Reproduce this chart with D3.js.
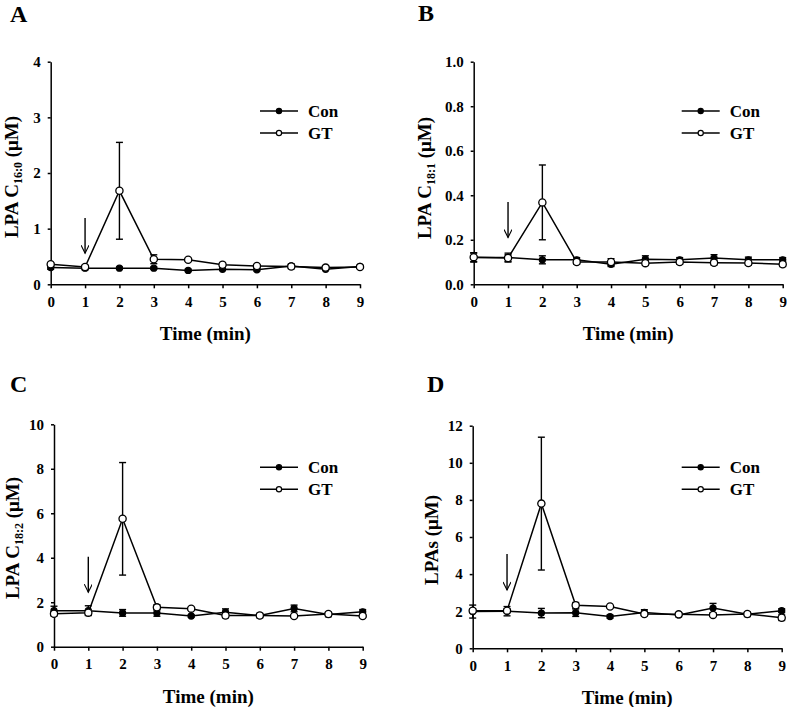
<!DOCTYPE html>
<html>
<head>
<meta charset="utf-8">
<script src="https://cdn.jsdelivr.net/npm/d3@7"></script>
<style>
  html, body { margin: 0; padding: 0; background: #fff; }
  svg { display: block; }
  text { font-family: "Liberation Serif", "Times New Roman", serif; font-weight: bold; fill: #000; }
</style>
</head>
<body>
<svg id="chart" width="787" height="707"></svg>
<script>
// ---------- data ----------
const times = [0, 1, 2, 3, 4, 5, 6, 7, 8, 9];
const seriesNames = ["Con", "GT"];
const panelLetters = ["A", "B", "C", "D"];

// Panel A: LPA C16:0
const conA    = [0.30, 0.29, 0.29, 0.29, 0.25, 0.27, 0.26, 0.33, 0.27, 0.32];
const conAErr = [0.03, 0.03, 0.02, 0.02, 0.02, 0.02, 0.02, 0.03, 0.02, 0.02];
const gtA     = [0.36, 0.31, 1.68, 0.45, 0.44, 0.35, 0.33, 0.32, 0.30, 0.31];
const gtAErr  = [0.03, 0.03, 0.87, 0.08, 0.02, 0.04, 0.02, 0.04, 0.02, 0.02];
const ticksA  = [0, 1, 2, 3, 4];

// Panel B: LPA C18:1
const conB    = [0.120, 0.120, 0.110, 0.110, 0.090, 0.113, 0.110, 0.118, 0.110, 0.110];
const conBErr = [0.020, 0.020, 0.018, 0.010, 0.010, 0.015, 0.010, 0.015, 0.012, 0.010];
const gtB     = [0.122, 0.118, 0.368, 0.100, 0.100, 0.095, 0.100, 0.097, 0.096, 0.090];
const gtBErr  = [0.020, 0.015, 0.168, 0.010, 0.015, 0.010, 0.010, 0.010, 0.010, 0.010];
const ticksB  = [0.0, 0.2, 0.4, 0.6, 0.8, 1.0];

// Panel C: LPA C18:2
const conC    = [1.62, 1.62, 1.52, 1.52, 1.38, 1.55, 1.40, 1.72, 1.45, 1.57];
const conCErr = [0.20, 0.22, 0.15, 0.15, 0.05, 0.15, 0.10, 0.15, 0.10, 0.10];
const gtC     = [1.48, 1.53, 5.75, 1.77, 1.71, 1.40, 1.40, 1.38, 1.47, 1.38];
const gtCErr  = [0.10, 0.10, 2.53, 0.12, 0.05, 0.10, 0.05, 0.05, 0.05, 0.05];
const ticksC  = [0, 2, 4, 6, 8, 10];

// Panel D: LPAs
const conD    = [1.98, 2.00, 1.90, 1.92, 1.71, 1.93, 1.80, 2.17, 1.83, 2.03];
const conDErr = [0.35, 0.25, 0.25, 0.20, 0.08, 0.15, 0.10, 0.25, 0.12, 0.10];
const gtD     = [2.03, 2.03, 7.80, 2.32, 2.25, 1.85, 1.83, 1.80, 1.85, 1.65];
const gtDErr  = [0.10, 0.10, 3.58, 0.15, 0.05, 0.10, 0.05, 0.05, 0.05, 0.15];
const ticksD  = [0, 2, 4, 6, 8, 10, 12];

// arrow (treatment) at t = 1: [top value, tip value] in data units
const arrowTime = 1;
const arrowA = [1.19, 0.56];
const arrowB = [0.37, 0.21];
const arrowC = [4.05, 2.45];
const arrowD = [5.08, 3.14];

// ---------- layout ----------
const panels = [
  { letter: panelLetters[0], con: conA, conErr: conAErr, gt: gtA, gtErr: gtAErr, ticks: ticksA, fmt: d3.format("d"),
    ylabel: ["LPA C", "16:0", " (\u03BCM)"], arrow: arrowA,
    x0: 50.7, x1: 360, y0: 284.3, y1: 61.7, letterX: 10, letterY: 22, labX: 18, labY: 177, legX: 260, legY: 111 },
  { letter: panelLetters[1], con: conB, conErr: conBErr, gt: gtB, gtErr: gtBErr, ticks: ticksB, fmt: d3.format(".1f"),
    ylabel: ["LPA C", "18:1", " (\u03BCM)"], arrow: arrowB,
    x0: 473.7, x1: 782.7, y0: 284.3, y1: 61.7, letterX: 418, letterY: 21, labX: 431, labY: 178, legX: 681.7, legY: 111 },
  { letter: panelLetters[2], con: conC, conErr: conCErr, gt: gtC, gtErr: gtCErr, ticks: ticksC, fmt: d3.format("d"),
    ylabel: ["LPA C", "18:2", " (\u03BCM)"], arrow: arrowC,
    x0: 54, x1: 362.7, y0: 646.7, y1: 424.3, letterX: 10, letterY: 392, labX: 19, labY: 538, legX: 260, legY: 467.3 },
  { letter: panelLetters[3], con: conD, conErr: conDErr, gt: gtD, gtErr: gtDErr, ticks: ticksD, fmt: d3.format("d"),
    ylabel: ["LPAs", null, " (\u03BCM)"], arrow: arrowD,
    x0: 472.7, x1: 781.7, y0: 648.3, y1: 425.7, letterX: 427, letterY: 392, labX: 438, labY: 540, legX: 681.7, legY: 467.3 }
];

const svg = d3.select("#chart");

svg.append("defs").append("marker")
  .attr("id", "arrowhead")
  .attr("viewBox", "0 0 10 10")
  .attr("refX", 10).attr("refY", 5)
  .attr("markerUnits", "userSpaceOnUse")
  .attr("markerWidth", 14).attr("markerHeight", 8)
  .attr("orient", "auto")
  .append("path")
  .attr("d", "M0,0 L10,5 L0,10")
  .attr("fill", "none").attr("stroke", "#000").attr("stroke-width", 1.4);

panels.forEach(p => {
  const x = d3.scaleLinear().domain([0, 9]).range([p.x0, p.x1]);
  const yMax = p.ticks[p.ticks.length - 1];
  const y = d3.scaleLinear().domain([0, yMax]).range([p.y0, p.y1]);
  const g = svg.append("g");

  // panel letter
  g.append("text").attr("x", p.letterX).attr("y", p.letterY)
    .attr("font-size", 24).text(p.letter);

  // axes
  const yAxis = d3.axisLeft(y).tickValues(p.ticks).tickFormat(p.fmt)
    .tickSizeInner(3).tickSizeOuter(0).tickPadding(7);
  const xAxis = d3.axisBottom(x).tickValues(times).tickFormat(d3.format("d"))
    .tickSizeInner(4).tickSizeOuter(0).tickPadding(8);

  const ya = g.append("g").attr("transform", `translate(${p.x0},0)`).call(yAxis);
  const xa = g.append("g").attr("transform", `translate(0,${p.y0})`).call(xAxis);
  [ya, xa].forEach(a => {
    a.selectAll("path.domain").attr("stroke", "#000").attr("stroke-width", 1.5);
    a.selectAll(".tick line").attr("stroke", "#000").attr("stroke-width", 1.5);
    a.selectAll(".tick text").attr("font-size", 15)
      .attr("font-family", "'Liberation Serif', 'Times New Roman', serif")
      .attr("font-weight", "bold").attr("fill", "#000");
  });

  // x title
  g.append("text").attr("x", (p.x0 + p.x1) / 2).attr("y", p.y0 + 56)
    .attr("text-anchor", "middle").attr("font-size", 19).text("Time (min)");

  // y title
  const yt = g.append("text")
    .attr("transform", `translate(${p.labX},${p.labY}) rotate(-90)`)
    .attr("text-anchor", "middle").attr("font-size", 19);
  yt.append("tspan").text(p.ylabel[0]);
  if (p.ylabel[1]) {
    yt.append("tspan").attr("font-size", 12).attr("dy", 4).text(p.ylabel[1]);
    yt.append("tspan").attr("dy", -4).text(p.ylabel[2]);
  } else {
    yt.append("tspan").text(p.ylabel[2]);
  }

  // arrow
  g.append("line")
    .attr("x1", x(arrowTime)).attr("x2", x(arrowTime))
    .attr("y1", y(p.arrow[0])).attr("y2", y(p.arrow[1]))
    .attr("stroke", "#000").attr("stroke-width", 1.4)
    .attr("marker-end", "url(#arrowhead)");

  const series = [
    { name: seriesNames[0], vals: p.con, err: p.conErr, fill: "#000" },
    { name: seriesNames[1], vals: p.gt, err: p.gtErr, fill: "#fff" }
  ];

  // error bars
  series.forEach(s => {
    const eb = g.append("g").attr("stroke", "#000").attr("stroke-width", 1.4);
    times.forEach((t, i) => {
      const top = y(s.vals[i] + s.err[i]);
      const bot = y(Math.max(0, s.vals[i] - s.err[i]));
      eb.append("line").attr("x1", x(t)).attr("x2", x(t)).attr("y1", top).attr("y2", bot);
      eb.append("line").attr("x1", x(t) - 3.5).attr("x2", x(t) + 3.5).attr("y1", top).attr("y2", top);
      eb.append("line").attr("x1", x(t) - 3.5).attr("x2", x(t) + 3.5).attr("y1", bot).attr("y2", bot);
    });
  });

  // lines
  const line = d3.line().x((d, i) => x(times[i])).y(d => y(d));
  series.forEach(s => {
    g.append("path").datum(s.vals).attr("d", line)
      .attr("fill", "none").attr("stroke", "#000").attr("stroke-width", 1.5);
  });

  // markers
  series.forEach(s => {
    g.selectAll(null).data(s.vals).enter().append("circle")
      .attr("cx", (d, i) => x(times[i])).attr("cy", d => y(d))
      .attr("r", s.fill === "#000" ? 3 : 3.6)
      .attr("fill", s.fill).attr("stroke", "#000").attr("stroke-width", 1.3);
  });

  // legend
  series.forEach((s, k) => {
    const ly = p.legY + k * 22;
    g.append("line").attr("x1", p.legX).attr("x2", p.legX + 38)
      .attr("y1", ly).attr("y2", ly).attr("stroke", "#000").attr("stroke-width", 1.5);
    g.append("circle").attr("cx", p.legX + 19).attr("cy", ly).attr("r", 2.6)
      .attr("fill", s.fill).attr("stroke", "#000").attr("stroke-width", 1.2);
    g.append("text").attr("x", p.legX + 48).attr("y", ly + 6)
      .attr("font-size", 17).text(s.name);
  });
});
</script>
</body>
</html>
